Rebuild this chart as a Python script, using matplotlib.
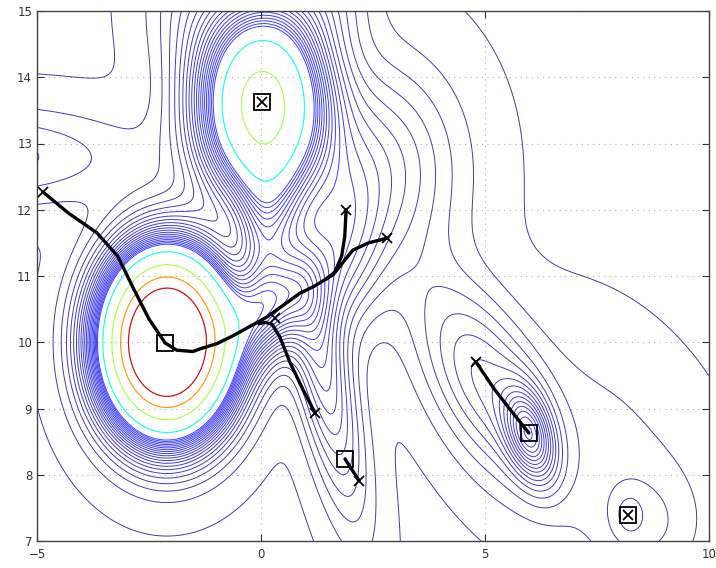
import numpy as np
import matplotlib
matplotlib.use("Agg")
import matplotlib.pyplot as plt
from matplotlib import cm

# density model: rotated gaussian bumps (centre, sigma along/across, angle, weight)
bump_x = [-2.1, 0.03, 0.2, 0.05, 1.8, 1.3, -6.5, 6.0, 5.0, 8.2, 8.6, 7.8, 2.6, -1.5, 1.3]
bump_y = [10.0, 13.6, 10.5, 11.5, 11.4, 9.8, 12.8, 8.6, 9.4, 7.4, 7.2, 8.5, 12.6, 15.2, 15.3]
bump_sa = [0.84, 0.88, 0.8, 0.4, 0.9, 1.6, 2.5, 0.5, 1.3, 0.25, 0.8, 1.6, 1.2, 0.75, 0.8]
bump_sb = [0.8, 0.92, 0.45, 0.9, 0.6, 0.42, 0.5, 0.32, 0.7, 0.25, 0.6, 1.0, 1.1, 0.8, 0.6]
bump_ang = [0, 0, 25, 0, 80, -72, 0, -60, -45, 0, 0, -30, 0, 0, 0]
bump_w = [1.6, 0.62, 0.17, 0.12, 0.08, 0.12, 0.055, 0.16, 0.09, 0.02, 0.025, 0.02, 0.08, 0.04, 0.05]

blue_levels = list(np.arange(0.002, 0.295, 0.0145))
hi_levels = [0.375, 0.55, 0.75, 0.95]

# mean-shift paths (start marked x, end marked by a square)
path1_x = [-4.87, -4.3, -3.66, -3.2, -2.86, -2.5, -2.14]
path1_y = [12.27, 11.95, 11.65, 11.3, 10.83, 10.35, 9.99]
path2_x = [2.81, 2.4, 2.05, 1.61, 1.2, 0.87, 0.13, -0.62, -0.98, -1.36, -1.52, -1.88, -2.14]
path2_y = [11.57, 11.5, 11.39, 11.02, 10.85, 10.74, 10.38, 10.1, 9.98, 9.9, 9.86, 9.88, 9.99]
path3_x = [1.90, 1.87, 1.8, 1.65, 1.45]
path3_y = [12.0, 11.6, 11.3, 11.06, 10.95]
path4_x = [1.21, 0.94, 0.65, 0.42, 0.25, 0.1, -0.05]
path4_y = [8.93, 9.28, 9.69, 10.08, 10.27, 10.3, 10.28]
path5_x = [2.19, 1.875]
path5_y = [7.91, 8.24]
path6_x = [4.80, 5.2, 5.6, 5.98]
path6_y = [9.70, 9.3, 8.95, 8.63]

start_x = [-4.87, 2.81, 1.90, 0.31, 1.21, 2.19, 4.80, 0.02, 8.19]
start_y = [12.27, 11.57, 12.0, 10.37, 8.93, 7.91, 9.70, 13.63, 7.39]
mode_x = [-2.14, 0.02, 1.875, 5.98, 8.19]
mode_y = [9.99, 13.63, 8.24, 8.63, 7.39]


def density(X, Y):
    Z = np.zeros_like(X)
    for cx, cy, sa, sb, ang, w in zip(bump_x, bump_y, bump_sa, bump_sb, bump_ang, bump_w):
        t = np.deg2rad(ang)
        u = (X - cx) * np.cos(t) + (Y - cy) * np.sin(t)
        v = -(X - cx) * np.sin(t) + (Y - cy) * np.cos(t)
        Z += w * np.exp(-0.5 * ((u / sa) ** 2 + (v / sb) ** 2))
    return Z


gx = np.linspace(-5, 10, 450)
gy = np.linspace(7, 15, 320)
X, Y = np.meshgrid(gx, gy)
Z = density(X, Y)

# low levels run dark blue -> blue, the top four pick up the warmer jet colours
n_blue = len(blue_levels)
blue_cols = [cm.jet(0.125 * k / (n_blue - 1)) for k in range(n_blue)]
hi_cols = [cm.jet(l) for l in hi_levels]

fig = plt.figure(figsize=(7.16, 5.68), dpi=100)
ax = fig.add_axes([37 / 716, 27 / 568, 672 / 716, 530 / 568])

ax.contour(X, Y, Z, levels=blue_levels, colors=blue_cols, linewidths=0.7, alpha=0.75)
ax.contour(X, Y, Z, levels=hi_levels, colors=hi_cols, linewidths=0.9, alpha=0.9)

for px, py in [(path1_x, path1_y), (path2_x, path2_y), (path3_x, path3_y),
               (path4_x, path4_y), (path5_x, path5_y), (path6_x, path6_y)]:
    ax.plot(px, py, color="black", lw=2.4, solid_capstyle="round", zorder=5)

ax.plot(start_x, start_y, "x", color="black", ms=7, mew=1.3, zorder=6)
ax.plot(mode_x, mode_y, "s", mfc="none", mec="black", ms=11, mew=1.3, zorder=6)

ax.set_xlim(-5, 10)
ax.set_ylim(7, 15)
ax.set_xticks([-5, 0, 5, 10])
ax.set_yticks(range(7, 16))
ax.grid(True, linestyle=(0, (1, 4)), color="#b0b0b0", linewidth=0.8)
ax.tick_params(direction="in", top=True, right=True, length=5, labelsize=8.5,
               colors="#333333")
ax.tick_params(axis="x", pad=5)
for s in ax.spines.values():
    s.set_color("#444444")
    s.set_linewidth(1.0)

fig.savefig("out.png", dpi=100)
